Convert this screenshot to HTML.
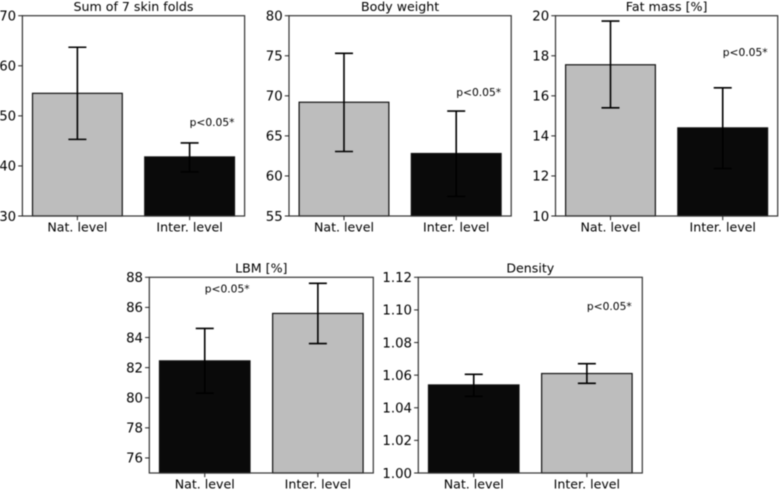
<!DOCTYPE html>
<html lang="en">
<head>
<meta charset="utf-8">
<title>Body composition comparison</title>
<style>
html,body{margin:0;padding:0;background:#fff;}
#chart{display:block;width:779px;height:490px;filter:blur(0.4px);}
text{font-family:"DejaVu Sans","Liberation Sans",sans-serif;fill:#000;}
</style>
</head>
<body>
<svg id="chart" xmlns="http://www.w3.org/2000/svg" width="779" height="490" viewBox="0 0 779 490"></svg>
<script>
const categories = ['Nat. level', 'Inter. level'];
const significanceLabel = 'p<0.05*';

const skinFoldValues = [54.5, 41.8];
const skinFoldLow = [45.3, 38.8];
const skinFoldHigh = [63.7, 44.6];
const skinFoldTicks = [30, 40, 50, 60, 70];

const weightValues = [69.2, 62.8];
const weightLow = [63.05, 57.45];
const weightHigh = [75.3, 68.1];
const weightTicks = [55, 60, 65, 70, 75, 80];

const fatValues = [17.55, 14.4];
const fatLow = [15.4, 12.37];
const fatHigh = [19.73, 16.4];
const fatTicks = [10, 12, 14, 16, 18, 20];

const lbmValues = [82.45, 85.6];
const lbmLow = [80.3, 83.6];
const lbmHigh = [84.6, 87.6];
const lbmTicks = [76, 78, 80, 82, 84, 86, 88];
const lbmRange = [75, 88];

const densityValues = [1.054, 1.061];
const densityLow = [1.047, 1.055];
const densityHigh = [1.0605, 1.067];
const densityTicks = ['1.00', '1.02', '1.04', '1.06', '1.08', '1.10', '1.12'];

const GREY = '#bdbdbd';
const BLACK = '#0a0a0a';
const NS = 'http://www.w3.org/2000/svg';
const svg = document.getElementById('chart');

const panels = [
  {key:'skin-folds', title:'Sum of 7 skin folds', values:skinFoldValues, low:skinFoldLow, high:skinFoldHigh, ticks:skinFoldTicks, colors:[GREY, BLACK], noteX:1, noteY:48, left:22.4, right:244.6, top:15.7, bottom:216},
  {key:'body-weight', title:'Body weight', values:weightValues, low:weightLow, high:weightHigh, ticks:weightTicks, colors:[GREY, BLACK], noteX:1, noteY:70, left:289, right:511.2, top:15.7, bottom:216},
  {key:'fat-mass', title:'Fat mass [%]', values:fatValues, low:fatLow, high:fatHigh, ticks:fatTicks, colors:[GREY, BLACK], noteX:1, noteY:18, left:555.5, right:777.7, top:15.7, bottom:216},
  {key:'lbm', title:'LBM [%]', values:lbmValues, low:lbmLow, high:lbmHigh, ticks:lbmTicks, range:lbmRange, colors:[BLACK, GREY], noteX:0, noteY:87, left:149.3, right:373.3, top:277.3, bottom:473},
  {key:'density', title:'Density', values:densityValues, low:densityLow, high:densityHigh, ticks:densityTicks, colors:[BLACK, GREY], noteX:1, noteY:1.1, left:418.3, right:642.3, top:277.3, bottom:473}
];

function make(tag, attrs, parent) {
  const el = document.createElementNS(NS, tag);
  for (const k in attrs) el.setAttribute(k, attrs[k]);
  parent.appendChild(el);
  return el;
}

panels.forEach(function (p) {
  const g = make('g', {}, svg);
  
  

  const first = Number(p.ticks[0]);
  const last = Number(p.ticks[p.ticks.length - 1]);
  const yMin = p.range ? p.range[0] : first;
  const yMax = p.range ? p.range[1] : last;
  const xMin = -0.49, xMax = 1.49;
  const xs = function (v) { return p.left + (v - xMin) / (xMax - xMin) * (p.right - p.left); };
  const ys = function (v) { return p.bottom - (v - yMin) / (yMax - yMin) * (p.bottom - p.top); };

  // bars
  p.values.forEach(function (v, i) {
    const x0 = xs(i - 0.4), x1 = xs(i + 0.4);
    const bar = make('rect', {x:x0, y:ys(v), width:x1 - x0, height:p.bottom - ys(v), fill:p.colors[i], stroke:'#111', 'stroke-width':1.2}, g);
    
    
  });

  // error bars
  p.values.forEach(function (v, i) {
    const eg = make('g', {stroke:'#000', 'stroke-width':1.6, fill:'none'}, g);
    
    
    const cx = xs(i), capHalf = 9;
    make('line', {x1:cx, x2:cx, y1:ys(p.low[i]), y2:ys(p.high[i])}, eg);
    make('line', {x1:cx - capHalf, x2:cx + capHalf, y1:ys(p.low[i]), y2:ys(p.low[i])}, eg);
    make('line', {x1:cx - capHalf, x2:cx + capHalf, y1:ys(p.high[i]), y2:ys(p.high[i])}, eg);
  });

  // frame
  const frame = make('rect', {x:p.left, y:p.top, width:p.right - p.left, height:p.bottom - p.top, fill:'none', stroke:'#333', 'stroke-width':1.2}, g);
  
  

  // y ticks
  p.ticks.forEach(function (t) {
    const y = ys(Number(t));
    const mark = make('line', {x1:p.left - 4.2, x2:p.left, y1:y, y2:y, stroke:'#222', 'stroke-width':1}, g);
    
    
    const label = make('text', {x:p.left - 6.3, y:y + 4.8, 'text-anchor':'end', 'font-size':13.3}, g);
    label.textContent = String(t);
    
    
  });

  // x ticks
  categories.forEach(function (c, i) {
    const x = xs(i);
    const mark = make('line', {x1:x, x2:x, y1:p.bottom, y2:p.bottom + 4.2, stroke:'#222', 'stroke-width':1}, g);
    
    
    const label = make('text', {x:x, y:p.bottom + 15.7, 'text-anchor':'middle', 'font-size':12.6}, g);
    label.textContent = c;
    
    
  });

  // title
  const title = make('text', {x:(p.left + p.right) / 2, y:p.top - 4.7, 'text-anchor':'middle', 'font-size':12.6}, g);
  title.textContent = p.title;
  
  

  // significance annotation
  const note = make('text', {x:xs(p.noteX), y:ys(p.noteY), 'text-anchor':'start', 'font-size':10.7}, g);
  note.textContent = significanceLabel;
  
  
});
</script>
</body>
</html>
